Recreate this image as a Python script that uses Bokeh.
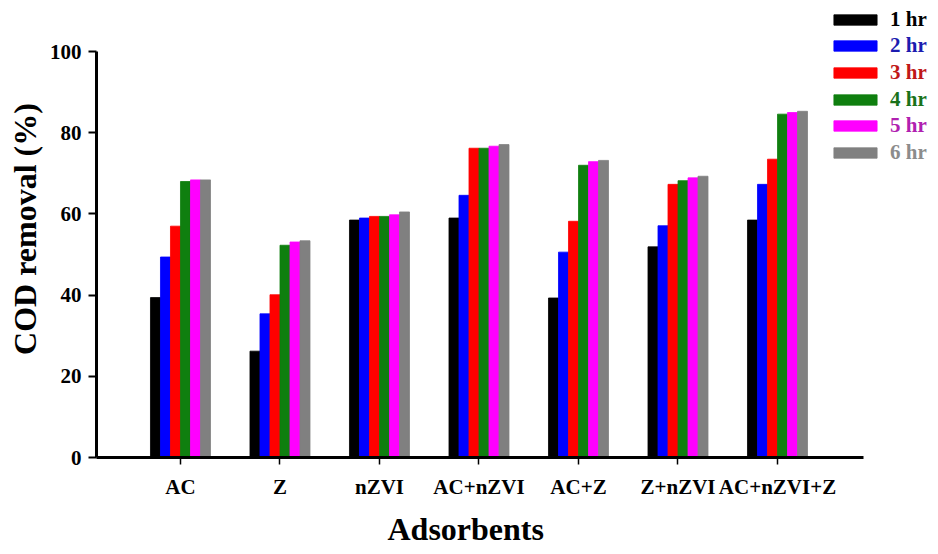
from bokeh.plotting import figure
from bokeh.models import ColumnDataSource, FixedTicker, Legend, LegendItem, Title
from bokeh.transform import dodge
from bokeh.embed import file_html
from bokeh.resources import INLINE

# COD removal (%) for each adsorbent after 1-6 hours of contact
categories = ["AC", "Z", "nZVI", "AC+nZVI", "AC+Z", "Z+nZVI", "AC+nZVI+Z"]
series_labels = ["1 hr", "2 hr", "3 hr", "4 hr", "5 hr", "6 hr"]
removal_1hr = [39.4, 26.2, 58.5, 59.0, 39.3, 51.9, 58.5]
removal_2hr = [49.4, 35.4, 59.0, 64.6, 50.6, 57.1, 67.3]
removal_3hr = [57.0, 40.1, 59.4, 76.2, 58.2, 67.3, 73.5]
removal_4hr = [68.0, 52.3, 59.4, 76.2, 72.0, 68.2, 84.6]
removal_5hr = [68.4, 53.1, 59.8, 76.7, 72.9, 68.9, 85.0]
removal_6hr = [68.4, 53.4, 60.5, 77.1, 73.2, 69.3, 85.3]
y_ticks = [0, 20, 40, 60, 80, 100]

bar_colors = ["#000000", "#0000ff", "#ff0000", "#0f7f0f", "#ff00ff", "#808080"]
text_colors = ["#000000", "#1c1cb0", "#c01818", "#1a721a", "#b020b0", "#8c8c8c"]

series = [removal_1hr, removal_2hr, removal_3hr, removal_4hr, removal_5hr, removal_6hr]
keys = ["h1", "h2", "h3", "h4", "h5", "h6"]
data = {"x": list(range(len(categories)))}
for k, vals in zip(keys, series):
    data[k] = vals
source = ColumnDataSource(data)

FONT = "Liberation Serif"

p = figure(
    width=938, height=554,
    x_range=(-0.844, 7.618), y_range=(0, 112.6),
    output_backend="svg", toolbar_location=None,
    min_border_left=96, min_border_right=0,
    min_border_top=0, min_border_bottom=97,
    outline_line_color=None,
)
p.grid.visible = False

bar_w = 0.1005
offsets = [-0.2513, -0.1508, -0.0503, 0.0503, 0.1508, 0.2513]
renderers = []
for k, off, col in zip(keys, offsets, bar_colors):
    r = p.vbar(x=dodge("x", off, range=p.x_range), top=k, width=bar_w,
               source=source, fill_color=col, line_color=col, line_width=0.8)
    renderers.append(r)

# x axis: one tick per adsorbent, line stops short of the legend column
xa = p.xaxis[0]
xa.ticker = FixedTicker(ticks=list(range(len(categories))))
xa.major_label_overrides = {i: c for i, c in enumerate(categories)}
xa.bounds = (-0.844, 6.864)
xa.axis_line_width = 3
xa.major_tick_out = 7
xa.major_tick_in = 0
xa.major_tick_line_width = 1.5
xa.minor_tick_line_color = None
xa.major_label_standoff = 10
xa.major_label_text_font = FONT
xa.major_label_text_font_style = "bold"
xa.major_label_text_font_size = "21px"
xa.major_label_text_color = "#000000"

# x-axis title, placed under the middle of the axis line rather than the whole frame
p.add_layout(Title(
    text="Adsorbents", align="left", offset=291, standoff=14,
    text_baseline="alphabetic",
    text_font=FONT, text_font_style="bold", text_font_size="32px",
    text_color="#000000",
), "below")

ya = p.yaxis[0]
ya.ticker = FixedTicker(ticks=y_ticks)
ya.bounds = (0, 100)
ya.axis_line_width = 3
ya.major_tick_out = 8
ya.major_tick_in = 0
ya.major_tick_line_width = 2
ya.minor_tick_line_color = None
ya.major_label_standoff = 7
ya.major_label_text_font = FONT
ya.major_label_text_font_style = "bold"
ya.major_label_text_font_size = "21px"
ya.major_label_text_color = "#000000"
ya.axis_label = "COD removal (%)"
ya.axis_label_text_font = FONT
ya.axis_label_text_font_style = "bold"
ya.axis_label_text_font_size = "32px"
ya.axis_label_text_color = "#000000"
ya.axis_label_standoff = 4

# one legend entry per row so that each label keeps its own colour
frame_bottom = 457
row_h = 27
for i, (lab, r, tc) in enumerate(zip(series_labels, renderers, text_colors)):
    center = 19 + 26.7 * i
    leg = Legend(
        items=[LegendItem(label=lab, renderers=[r])],
        location=(732, frame_bottom - center - row_h / 2),
        glyph_width=54, glyph_height=13, label_height=row_h,
        label_standoff=8, padding=0, margin=0, spacing=0,
        border_line_color=None, background_fill_alpha=0,
        label_text_font=FONT, label_text_font_style="bold",
        label_text_font_size="21px", label_text_color=tc,
    )
    p.add_layout(leg)

open("out.html", "w").write(file_html(p, INLINE))
